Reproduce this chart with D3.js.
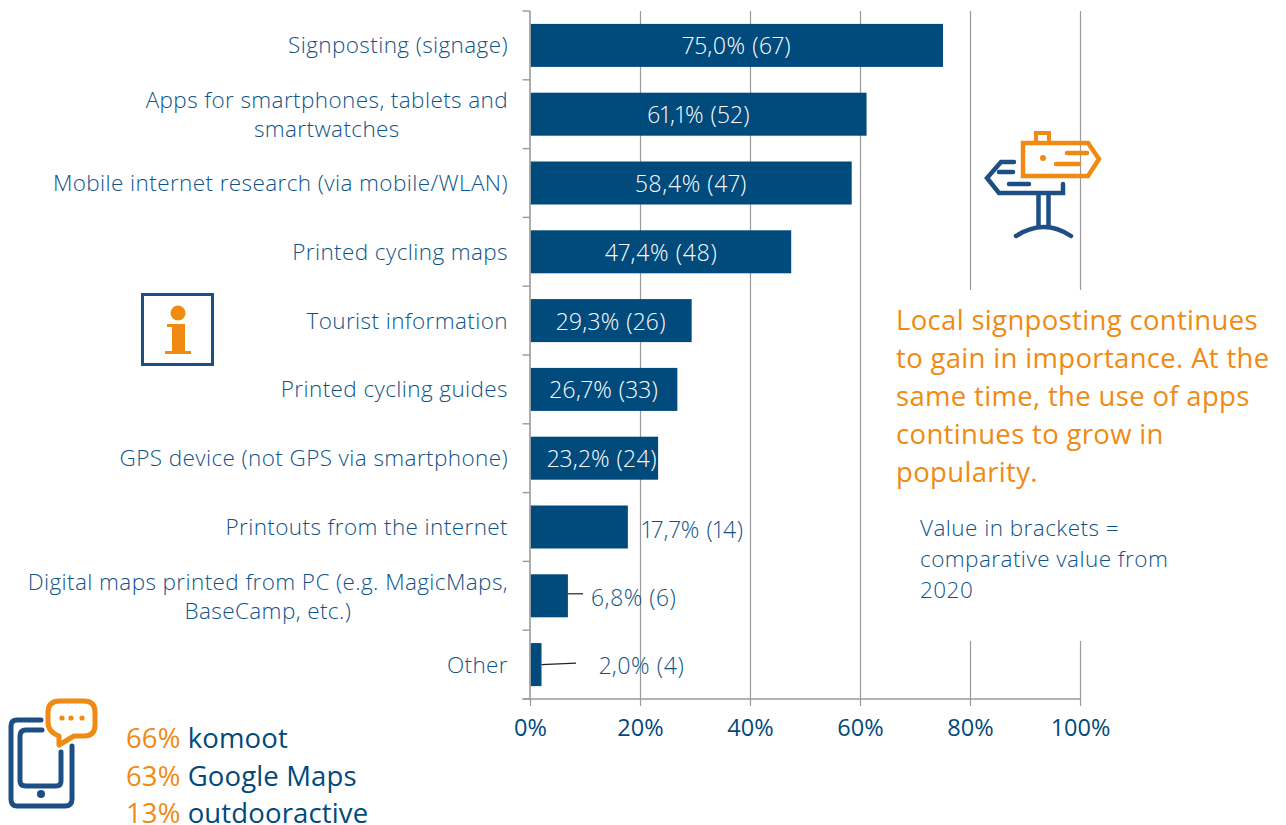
<!DOCTYPE html>
<html><head><meta charset="utf-8">
<script src="https://cdn.jsdelivr.net/npm/d3@7/dist/d3.min.js"></script>
<style>
html,body{margin:0;padding:0;background:#fff}
svg{display:block}
text{font-family:"Open Sans",sans-serif;}
</style></head><body>
<svg id="c" width="1286" height="825"></svg>
<script>
const categories = [
  ["Signposting (signage)"],
  ["Apps for smartphones, tablets and","smartwatches"],
  ["Mobile internet research (via mobile/WLAN)"],
  ["Printed cycling maps"],
  ["Tourist information"],
  ["Printed cycling guides"],
  ["GPS device (not GPS via smartphone)"],
  ["Printouts from the internet"],
  ["Digital maps printed from PC (e.g. MagicMaps,","BaseCamp, etc.)"],
  ["Other"]
];
const values = [75.0,61.1,58.4,47.4,29.3,26.7,23.2,17.7,6.8,2.0];
const previous = [67,52,47,48,26,33,24,14,6,4];
const ticks = [0,20,40,60,80,100];
const appShares = ["66%","63%","13%"];
const appNames = ["komoot","Google Maps","outdooractive"];
const noteLines = ["Local signposting continues","to gain in importance. At the","same time, the use of apps","continues to grow in","popularity."];
const bracketLines = ["Value in brackets =","comparative value from","2020"];

const navy="#004a7c", text="#0f5488", orange="#f08a12", iconBlue="#1d4f85", grid="#9a9a9a";
const svg=d3.select("#c");
const x=d3.scaleLinear().domain([0,100]).range([530.5,1080.5]);
const y=d3.scaleBand().domain(d3.range(categories.length)).range([11,699]).paddingInner(0.375).paddingOuter(0.1875);

// grid
svg.append("g").selectAll("line").data(ticks.slice(1)).join("line")
  .attr("x1",d=>x(d)).attr("x2",d=>x(d)).attr("y1",11).attr("y2",699)
  .attr("stroke",grid).attr("stroke-width",1.2);
// mask behind the note
svg.append("rect").attr("x",890).attr("y",290).attr("width",396).attr("height",351).attr("fill","#fff");

// bars
svg.append("g").selectAll("rect").data(values).join("rect")
  .attr("x",x(0)).attr("y",(d,i)=>y(i)).attr("width",d=>x(d)-x(0)).attr("height",y.bandwidth())
  .attr("fill",navy);

// axes
const yAx=svg.append("g");
yAx.append("line").attr("x1",530).attr("x2",530).attr("y1",11).attr("y2",699).attr("stroke",grid).attr("stroke-width",1.6);
yAx.selectAll("line.t").data(d3.range(categories.length+1)).join("line").attr("class","t")
  .attr("x1",522.5).attr("x2",530).attr("y1",i=>11+i*y.step()).attr("y2",i=>11+i*y.step())
  .attr("stroke",grid).attr("stroke-width",1.4);
const xAx=svg.append("g");
xAx.append("line").attr("x1",522.5).attr("x2",1080).attr("y1",699).attr("y2",699).attr("stroke",grid).attr("stroke-width",1.4);
xAx.selectAll("line.t").data(ticks).join("line").attr("class","t")
  .attr("x1",d=>x(d)).attr("x2",d=>x(d)).attr("y1",699).attr("y2",706).attr("stroke",grid).attr("stroke-width",1.2);
xAx.selectAll("text").data(ticks).join("text")
  .attr("x",d=>x(d)).attr("y",736).attr("text-anchor","middle").attr("fill",navy)
  .style("font-size","23.5px").text(d=>d+"%");

// category labels (second lines are centred under the first)
const catStyle=s=>s.attr("fill",text).style("font-size","22.5px").style("font-weight",300).style("letter-spacing","0.4px");
svg.append("g").selectAll("g").data(categories).join("g").each(function(lines,i){
  const g=d3.select(this), cy=y(i)+y.bandwidth()/2;
  const first=g.append("text").call(catStyle).attr("text-anchor","end").attr("x",508)
    .attr("y",lines.length>1?cy-6:cy+8).text(lines[0]);
  if(lines.length>1){
    const w=first.node().getComputedTextLength();
    g.append("text").call(catStyle).attr("text-anchor","middle").attr("x",508-w/2).attr("y",cy+23).text(lines[1]);
  }
});

// value labels
const fmt=(v,p)=>v.toFixed(1).replace(".",",")+"% ("+p+")";
const outside={7:[642,530],8:[591,598],9:[599,666]};
const shifted={6:602};
svg.append("g").selectAll("text").data(values).join("text")
  .attr("x",(d,i)=>outside[i]?outside[i][0]:(shifted[i]||(x(0)+x(d))/2))
  .attr("y",(d,i)=>outside[i]?outside[i][1]+8:y(i)+y.bandwidth()/2+9)
  .attr("text-anchor",(d,i)=>outside[i]?"start":"middle")
  .attr("fill",(d,i)=>outside[i]?text:"#fff").style("font-size","23px").style("font-weight",300).style("letter-spacing","0.5px")
  .style("font-variant-numeric","proportional-nums")
  .text((d,i)=>fmt(d,previous[i]));

// leader lines
const cy=i=>y(i)+y.bandwidth()/2;
svg.append("line").attr("x1",x(values[8])).attr("x2",583).attr("y1",cy(8)-2).attr("y2",cy(8)-2).attr("stroke","#222").attr("stroke-width",1.2);
svg.append("line").attr("x1",x(values[9])).attr("x2",576).attr("y1",cy(9)).attr("y2",cy(9)-1.5).attr("stroke","#222").attr("stroke-width",1.2);

// note
svg.append("g").selectAll("text").data(noteLines).join("text")
  .attr("x",896).attr("y",(d,i)=>329.5+i*38.2).attr("fill",orange).style("font-size","27.5px").style("letter-spacing","0.33px").text(d=>d);
svg.append("g").selectAll("text").data(bracketLines).join("text")
  .attr("x",920).attr("y",(d,i)=>536+i*31).attr("fill",text).style("font-size","22.5px").style("font-weight",300).style("letter-spacing","0.45px").text(d=>d);

// app list
const apps=svg.append("g");
apps.selectAll("text").data(appNames).join("text")
  .attr("x",126).attr("y",(d,i)=>748+i*37.5).style("font-size","27.5px").style("letter-spacing","0.15px")
  .each(function(d,i){
    const s=d3.select(this);
    s.append("tspan").attr("fill",orange).text(appShares[i]);
    s.append("tspan").attr("fill",navy).attr("dx",7).text(d);
  });

// info icon
const info=svg.append("g");
info.append("rect").attr("x",142.5).attr("y",294.5).attr("width",70).attr("height",70).attr("fill","#fff").attr("stroke",iconBlue).attr("stroke-width",3);
info.append("circle").attr("cx",178).attr("cy",313).attr("r",7.5).attr("fill",orange);
info.append("path").attr("fill",orange).attr("d","M167 324H185V351H191V354H165V351H172V327H167Z");

// signpost icon
const sp=svg.append("g").attr("fill","none").attr("stroke-linecap","round").attr("stroke-linejoin","miter");
sp.append("path").attr("stroke",iconBlue).attr("stroke-width",4.5)
  .attr("d","M1014 162H1001L987 178L999 193H1063V184");
sp.append("path").attr("stroke",iconBlue).attr("stroke-width",4.5).attr("d","M999 172H1013M1009 184H1029");
sp.append("path").attr("stroke",iconBlue).attr("stroke-width",4.5).attr("d","M1038.5 195V227M1048.5 195V227M1016 236Q1044 218 1071 236");
sp.append("path").attr("stroke",orange).attr("stroke-width",4.5).attr("d","M1023 143H1088L1099 159L1088 176H1023Z");
sp.append("rect").attr("x",1036).attr("y",133).attr("width",13).attr("height",10).attr("stroke",orange).attr("stroke-width",4);
sp.append("path").attr("stroke",orange).attr("stroke-width",4.5).attr("d","M1067 153H1087M1056 164H1079");
sp.append("circle").attr("cx",1043).attr("cy",158).attr("r",3).attr("fill",orange);

// phone icon
const ph=svg.append("g").attr("fill","none").attr("stroke-linecap","round");
ph.append("path").attr("stroke",iconBlue).attr("stroke-width",5)
  .attr("d","M41 720H17Q11 720 11 726V799Q11 806 17 806H65Q72 806 72 799V746");
ph.append("path").attr("stroke",iconBlue).attr("stroke-width",5)
  .attr("d","M42 730H26Q20 730 20 736V781Q20 786 26 786H56Q61 786 61 781V752");
ph.append("circle").attr("cx",41).attr("cy",794).attr("r",4).attr("fill",iconBlue);
ph.append("path").attr("stroke",orange).attr("stroke-width",5).attr("fill","#fff").attr("stroke-linejoin","round")
  .attr("d","M60 701H84Q95 701 95 712V725Q95 736 84 736H74L59 745V736Q48 732 48 722V712Q48 701 60 701Z");
ph.selectAll("circle.d").data([62,71,82]).join("circle").attr("class","d").attr("cx",d=>d).attr("cy",718).attr("r",2.6).attr("fill",orange);
</script>
</body></html>
